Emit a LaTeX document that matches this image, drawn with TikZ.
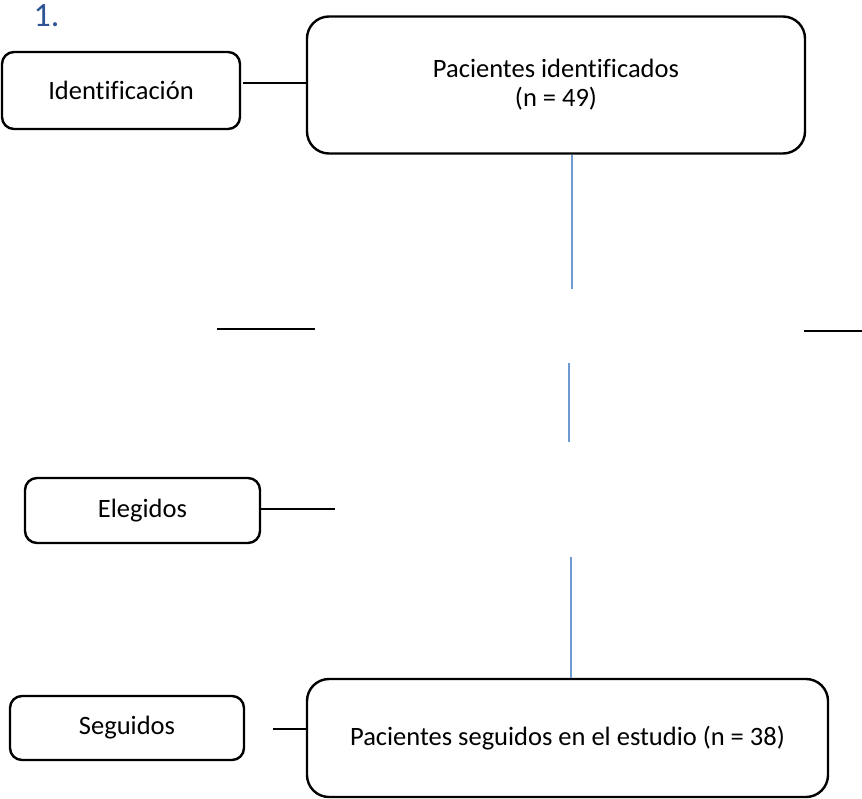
\documentclass[tikz,border=0pt]{standalone}
\usepackage{fontspec}
\setmainfont{Carlito}[Ligatures=NoCommon]
\definecolor{headblue}{HTML}{2F5496}
\definecolor{flowblue}{HTML}{6F9BD3}
\tikzset{
stagebox/.style={draw, line width=2.4pt, rounded corners=12pt, align=center,
  inner sep=0pt, font=\fontsize{26.5}{29}\selectfont},
mainbox/.style={stagebox, rounded corners=22pt},
joinline/.style={draw, line width=1.2pt},
flowline/.style={draw=flowblue, line width=2pt}
}

\begin{document}
\begin{tikzpicture}[x=1pt,y=-1pt]
\useasboundingbox (0,0) rectangle (862,799);
\node[text=headblue, font=\fontsize{34}{38}\selectfont, anchor=base west] (num) at (30,27) {1.};
\node[stagebox, minimum width=238, minimum height=77] (ident) at (121,90.5) {Identificación};
\node[mainbox, minimum width=498, minimum height=137] (found) at (556,85) {Pacientes identificados\\(n = 49)};
\node[stagebox, minimum width=235, minimum height=65] (chosen) at (142.5,510.5) {Elegidos};
\node[stagebox, minimum width=234, minimum height=64] (tracked) at (127,728) {Seguidos};
\node[mainbox, minimum width=521, minimum height=118] (study) at (567.5,738) {Pacientes seguidos en el estudio (n = 38)};
\coordinate (i1) at (243,83);
\coordinate (b1) at (572,289);
\coordinate (m1) at (217,329);
\coordinate (m2) at (315,329);
\coordinate (r1) at (804,331);
\coordinate (r2) at (862,331);
\coordinate (b2) at (569,363);
\coordinate (b3) at (569,442);
\coordinate (e1) at (335,509);
\coordinate (b4) at (571,557);
\coordinate (s1) at (273,729);
\draw[joinline] (i1) -- (i1 -| found.west);
\draw[flowline] (b1 |- found.south) -- (b1);
\draw[joinline] (m1) -- (m2);
\draw[joinline] (r1) -- (r2);
\draw[flowline] (b2) -- (b3);
\draw[joinline] (chosen.east |- e1) -- (e1);
\draw[flowline] (b4) -- (b4 |- study.north);
\draw[joinline] (s1) -- (s1 -| study.west);
\end{tikzpicture}
\end{document}
